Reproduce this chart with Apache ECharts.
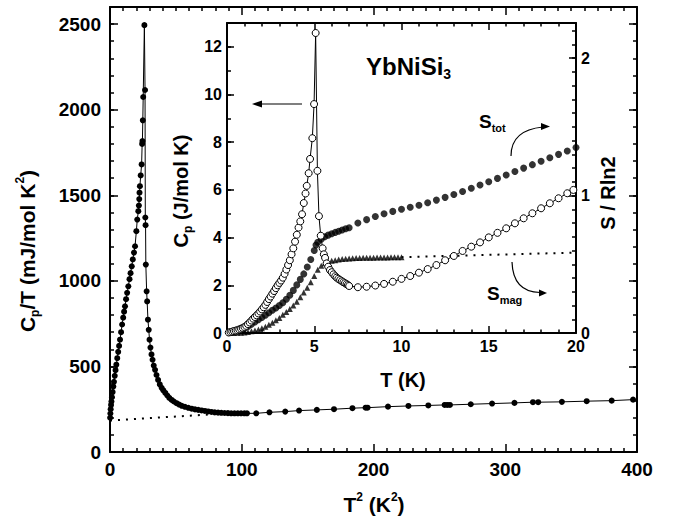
<!DOCTYPE html>
<html>
<head>
<meta charset="utf-8">
<script src="https://cdn.jsdelivr.net/npm/echarts@6/dist/echarts.min.js"></script>
<style>
html, body { margin: 0; padding: 0; background: #fff; }
#chart { width: 673px; height: 526px; }
</style>
</head>
<body>
<div id="chart"></div>
<script>
// main panel: Cp/T (mJ/mol K^2) vs T^2 (K^2)
const mainT2 = [0.1, 0.3, 0.5, 0.8, 1.1, 1.5, 2.0, 2.5, 3.0, 3.6, 4.2, 4.8, 5.5, 6.2, 6.9, 7.6, 8.4, 9.2, 10.0, 10.7,
    11.4, 12.2, 13.0, 13.9, 14.8, 15.6, 16.5, 17.3, 18.2, 19.0, 20.0, 20.7, 21.5, 21.9, 22.2, 22.4, 22.7, 23.3, 24.0, 24.4,
    24.6, 24.9, 25.2, 26.1,
    26.6, 26.8, 27.0, 27.2, 27.8, 28.2, 28.8, 29.4, 30.0, 30.7, 31.5, 32.3, 33.2, 34.2, 35.3, 36.5, 37.8, 39.2, 40.5, 42.0,
    43.5, 45.0, 46.8, 48.5, 50.5, 52.5, 54.5, 56.9, 59.5, 62, 64.5, 67, 69.5, 72, 74.5, 77, 79.5, 82, 84.5, 87,
    89.5, 92, 94.5, 97, 99.5, 102, 104, 111, 121, 133, 143.5, 157, 170, 184, 194, 195.5, 211, 226.5,
    241.6, 254, 256, 258, 273.8, 290, 307, 321, 325, 343, 361.8, 380.8, 397];
const mainCpT = [200, 225, 250, 275, 295, 320, 350, 382, 410, 445, 478, 510, 548, 585, 620, 656, 700, 745, 785, 820,
    851, 893, 930, 968, 1010, 1045, 1085, 1125, 1165, 1202, 1290, 1358, 1407, 1440, 1478, 1515, 1553, 1616, 1680, 1800,
    1817, 1938, 2074, 2494,
    2115, 1370, 1325, 1095, 939, 880, 773, 714, 656, 610, 570, 539, 505, 480, 450, 421, 395, 375, 360, 345,
    330, 316, 304, 295, 285, 277, 270, 264, 258, 253, 249, 246, 243, 240, 237, 234, 232, 230, 229, 228,
    227, 226, 226, 226, 226, 226, 226, 226, 232, 236, 242, 246, 250, 256, 259, 259, 265, 269,
    272, 275, 275, 275, 279, 283, 287, 291, 291, 293, 297, 300, 306];
// dotted phonon line in main panel
const lineT2 = [0, 90];
const lineCpT = [184, 226];

// inset: Cp (J/mol K) vs T (K), open circles
const cpT = [0.1, 0.2, 0.3, 0.4, 0.5, 0.6, 0.7, 0.8, 0.9, 1.0, 1.1, 1.2, 1.3, 1.4, 1.5, 1.6, 1.7, 1.8, 1.9, 2.0,
    2.1, 2.2, 2.3, 2.4, 2.5, 2.6, 2.7, 2.8, 2.9, 3.0, 3.1, 3.2, 3.3, 3.4, 3.5, 3.6, 3.7, 3.8, 3.9, 4.0,
    4.1, 4.2, 4.3, 4.4, 4.5, 4.57, 4.68, 4.76, 4.89, 4.99, 5.08, 5.18, 5.27, 5.37, 5.48, 5.55, 5.62, 5.71, 5.8, 5.9,
    6.0, 6.1, 6.2, 6.28, 6.38, 6.48, 6.58, 6.67, 6.76, 6.85, 6.93, 7.0, 7.5, 8.0, 8.5, 9.0, 9.5, 10.0, 10.5, 11.0,
    11.5, 12.0, 12.5, 13.0, 13.5, 14.0, 14.5, 15.0, 15.5, 16.0, 16.5, 17.0, 17.5, 18.0, 18.5, 19.0, 19.5, 19.85];
const cpVal = [0.02, 0.04, 0.06, 0.08, 0.1, 0.12, 0.15, 0.18, 0.21, 0.25, 0.3, 0.37, 0.44, 0.52, 0.6, 0.67, 0.74, 0.82, 0.9, 0.99,
    1.08, 1.18, 1.3, 1.42, 1.53, 1.65, 1.76, 1.88, 2.0, 2.1, 2.2, 2.32, 2.48, 2.66, 2.85, 3.05, 3.3, 3.55, 3.83, 4.12,
    4.42, 4.68, 4.98, 5.45, 5.85, 6.17, 6.7, 7.3, 8.17, 9.6, 12.58, 6.8, 4.9, 4.08, 3.55, 3.3, 3.15, 2.92, 2.78, 2.64,
    2.55, 2.46, 2.38, 2.32, 2.27, 2.22, 2.17, 2.13, 2.09, 2.05, 2.01, 1.97, 1.92, 1.94, 1.99, 2.06, 2.15, 2.27, 2.39, 2.53,
    2.68, 2.85, 3.05, 3.23, 3.44, 3.62, 3.8, 4.01, 4.2, 4.39, 4.6, 4.81, 5.02, 5.23, 5.44, 5.65, 5.86, 6.0];

// inset: S_tot / Rln2, filled circles
const stotT = [0.2, 0.4, 0.6, 0.8, 1.0, 1.2, 1.4, 1.6, 1.8, 2.0, 2.2, 2.4, 2.6, 2.8, 3.0, 3.2, 3.4, 3.6, 3.8, 4.0,
    4.2, 4.4, 4.6, 4.8, 5.0, 5.1, 5.2, 5.4, 5.6, 5.8, 6.0, 6.2, 6.4, 6.6, 6.8, 7.0,
    7.5, 8.0, 8.5, 9.0, 9.5, 10.0, 10.5, 11.0, 11.5, 12.0, 12.5, 13.0, 13.5, 14.0, 14.5, 15.0, 15.5, 16.0, 16.5, 17.0,
    17.5, 18.0, 18.5, 19.0, 19.5, 20.0];
const stotVal = [0.005, 0.01, 0.017, 0.025, 0.035, 0.048, 0.063, 0.08, 0.096, 0.113, 0.13, 0.148, 0.165, 0.182, 0.2, 0.22, 0.245, 0.275, 0.31, 0.35,
    0.39, 0.43, 0.48, 0.535, 0.6, 0.64, 0.66, 0.683, 0.7, 0.712, 0.722, 0.732, 0.74, 0.75, 0.758, 0.766,
    0.8, 0.825, 0.848, 0.868, 0.885, 0.9, 0.915, 0.93, 0.948, 0.967, 0.987, 1.008, 1.03, 1.053, 1.077, 1.1, 1.125, 1.15, 1.175, 1.2,
    1.225, 1.25, 1.275, 1.3, 1.325, 1.35];

// inset: S_mag / Rln2, small triangles, dotted beyond 10 K
const smagT = [0.4, 0.6, 0.8, 1.0, 1.2, 1.4, 1.6, 1.8, 2.0, 2.2, 2.4, 2.6, 2.8, 3.0, 3.2, 3.4, 3.6, 3.8, 4.0, 4.2,
    4.4, 4.6, 4.8, 5.0, 5.2, 5.4, 5.6, 5.8, 6.0, 6.2, 6.4, 6.6, 6.8, 7.0, 7.2, 7.4, 7.6, 7.8, 8.0, 8.2,
    8.4, 8.6, 8.8, 9.0, 9.2, 9.4, 9.6, 9.8, 10.0];
const smagVal = [0.0, 0.001, 0.002, 0.004, 0.007, 0.012, 0.018, 0.026, 0.035, 0.046, 0.06, 0.075, 0.092, 0.11, 0.132, 0.152, 0.175, 0.2, 0.228, 0.26,
    0.295, 0.33, 0.37, 0.415, 0.46, 0.49, 0.508, 0.518, 0.525, 0.53, 0.535, 0.538, 0.541, 0.543, 0.544, 0.545, 0.546, 0.547, 0.547, 0.548,
    0.548, 0.549, 0.549, 0.55, 0.55, 0.551, 0.551, 0.551, 0.552];
const smagExtT = [10, 20];
const smagExtVal = [0.552, 0.585];

const R_LN2 = 8.314 * Math.log(2);
const FONT = "'Liberation Sans', Arial, sans-serif";

const pairs = (xs, ys) => xs.map((x, i) => [x, ys[i]]);

function axis(gridIndex, position, min, max, interval, opts) {
    const o = opts || {};
    return {
        type: 'value', gridIndex: gridIndex, position: position,
        min: min, max: max, interval: interval,
        axisLine: { show: o.line !== false, onZero: false, lineStyle: { color: '#000', width: 2 } },
        axisTick: { show: true, inside: true, length: o.tick || 4, lineStyle: { color: '#000', width: 1.5 } },
        minorTick: o.minor ? { show: true, splitNumber: o.minor, length: o.tick / 2, lineStyle: { color: '#000', width: 1.5 } } : { show: false },
        axisLabel: o.labels ? {
            show: true, margin: o.margin, showMaxLabel: o.showMax !== false,
            formatter: v => String(v),
            color: '#000', fontSize: o.labels, fontWeight: 'bold', fontFamily: FONT
        } : { show: false },
        splitLine: { show: false }
    };
}

const rich = (size) => ({
    n: { fontSize: size, fontWeight: 'bold', fontFamily: FONT, color: '#000', lineHeight: size + 6, verticalAlign: 'middle' },
    sub: { fontSize: Math.round(size * 0.58), fontWeight: 'bold', fontFamily: FONT, color: '#000', lineHeight: 12, verticalAlign: 'bottom' },
    sup: { fontSize: Math.round(size * 0.58), fontWeight: 'bold', fontFamily: FONT, color: '#000', lineHeight: 12, verticalAlign: 'top' }
});

function label(x, y, text, size, rotation, align) {
    return {
        type: 'text', x: x, y: y, rotation: rotation || 0, z: 10,
        style: { text: text, rich: rich(size), fill: '#000', align: align || 'center', verticalAlign: 'middle' }
    };
}

const lineArrow = () => ({ stroke: '#000', lineWidth: 1.2, fill: null });

// svg renderer: the canvas one dropped the tick marks here
const chart = echarts.init(document.getElementById('chart'), null, { renderer: 'svg' });
chart.setOption({
    animation: false,
    backgroundColor: '#fff',
    grid: [
        { left: 110, top: 7, width: 527, height: 445, outerBoundsMode: 'none' },
        { left: 227, top: 23, width: 349, height: 310, outerBoundsMode: 'none', show: true, backgroundColor: '#fff', borderWidth: 0 }
    ],
    xAxis: [
        axis(0, 'bottom', 0, 400, 100, { tick: 8, minor: 10, labels: 19, margin: 8 }),
        axis(0, 'top', 0, 400, 100, { tick: 8, minor: 10 }),
        axis(1, 'bottom', 0, 20, 5, { tick: 7, minor: 5, labels: 16, margin: 5 }),
        axis(1, 'top', 0, 20, 5, { tick: 7, minor: 5 })
    ],
    yAxis: [
        axis(0, 'left', 0, 2600, 100, { tick: 4 }),
        axis(0, 'left', 0, 2600, 500, { tick: 8, line: false, labels: 19, margin: 9, showMax: false }),
        axis(0, 'right', 0, 2600, 100, { tick: 4 }),
        axis(0, 'right', 0, 2600, 500, { tick: 8, line: false }),
        axis(1, 'left', 0, 13, 1, { tick: 4 }),
        axis(1, 'left', 0, 13, 2, { tick: 7, line: false, labels: 16, margin: 5, showMax: false }),
        axis(1, 'right', 0, 13 / R_LN2, 0.1, { tick: 4 }),
        axis(1, 'right', 0, 13 / R_LN2, 1, { tick: 7, line: false, labels: 16, margin: 5, showMax: false })
    ],
    series: [
        { type: 'line', xAxisIndex: 0, yAxisIndex: 0, data: pairs(lineT2, lineCpT),
          symbol: 'none', lineStyle: { color: '#000', width: 2, type: [2, 6] } },
        { type: 'line', xAxisIndex: 0, yAxisIndex: 0, data: pairs(mainT2, mainCpT),
          symbol: 'circle', symbolSize: 6, itemStyle: { color: '#000' }, lineStyle: { color: '#000', width: 1 } },
        { type: 'line', xAxisIndex: 2, yAxisIndex: 6, data: pairs(smagExtT, smagExtVal),
          symbol: 'none', lineStyle: { color: '#000', width: 2, type: [2, 6] } },
        { type: 'scatter', xAxisIndex: 2, yAxisIndex: 6, data: pairs(smagT, smagVal),
          symbol: 'triangle', symbolSize: 6, itemStyle: { color: '#000' } },
        { type: 'scatter', xAxisIndex: 2, yAxisIndex: 6, data: pairs(stotT, stotVal),
          symbol: 'circle', symbolSize: 7, itemStyle: { color: '#000' } },
        { type: 'line', xAxisIndex: 2, yAxisIndex: 4, data: pairs(cpT, cpVal),
          symbol: 'circle', symbolSize: 7, itemStyle: { color: '#fff', borderColor: '#000', borderWidth: 1 },
          lineStyle: { color: '#000', width: 1 } }
    ],
    graphic: [
        label(27, 251, '{n|C}{sub|p}{n|/T (mJ/mol K}{sup|2}{n|)}', 21, Math.PI / 2),
        label(374, 504, '{n|T}{sup|2}{n| (K}{sup|2}{n|)}', 21),
        label(403, 380, '{n|T (K)}', 20),
        label(181, 191, '{n|C}{sub|p}{n| (J/mol K)}', 20, Math.PI / 2),
        label(608, 193, '{n|S / Rln2}', 20, Math.PI / 2),
        label(366, 66, '{n|YbNiSi}{sub|3}', 24, 0, 'left'),
        label(479, 121, '{n|S}{sub|tot}', 19, 0, 'left'),
        label(487, 293, '{n|S}{sub|mag}', 19, 0, 'left'),
        { type: 'line', z: 10, shape: { x1: 302, y1: 104, x2: 259, y2: 104 }, style: lineArrow() },
        { type: 'polygon', z: 10, shape: { points: [[252, 104], [262, 100.5], [262, 107.5]] }, style: { fill: '#000' } },
        { type: 'bezierCurve', z: 10, shape: { x1: 511, y1: 156, cpx1: 511, cpy1: 130, x2: 543, y2: 127 }, style: lineArrow() },
        { type: 'polygon', z: 10, shape: { points: [[550, 126.5], [541, 123], [541, 130]] }, style: { fill: '#000' } },
        { type: 'bezierCurve', z: 10, shape: { x1: 512, y1: 262, cpx1: 513, cpy1: 292, x2: 540, y2: 292.5 }, style: lineArrow() },
        { type: 'polygon', z: 10, shape: { points: [[547, 293], [539, 289.5], [539, 296.5]] }, style: { fill: '#000' } }
    ]
});
</script>
</body>
</html>
